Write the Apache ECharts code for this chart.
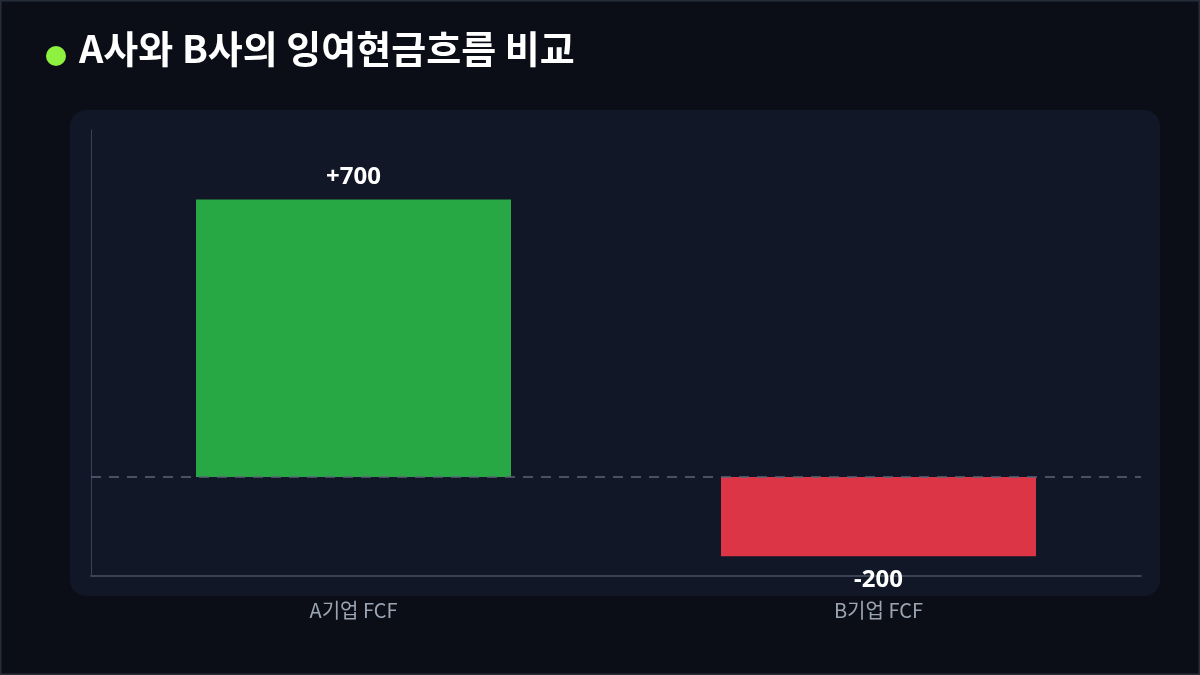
<!DOCTYPE html>
<html><head><meta charset="utf-8">
<script src="https://cdn.jsdelivr.net/npm/echarts@6/dist/echarts.min.js"></script>
<style>html,body{margin:0;padding:0;background:#0b0e17;}#c{width:1200px;height:675px;}</style>
</head><body><div id="c"></div>
<script>
const categories = ['A기업 FCF', 'B기업 FCF'];
const values = [700, -200];
const barColors = ['#28a745', '#dc3545'];
const titleText = 'A사와 B사의 잉여현금흐름 비교';

const chart = echarts.init(document.getElementById('c'), null, {renderer: 'canvas'});
const maxAbs = Math.max(...values);
const minAbs = Math.min(...values);
chart.setOption({
  backgroundColor: '#0b0e17',
  animation: false,
  graphic: [
    {type: 'rect', shape: {x: 0.5, y: 0.5, width: 1199, height: 674}, style: {fill: 'none', stroke: '#262c3a', lineWidth: 2}, z: -10},
    {type: 'rect', shape: {x: 70, y: 110, width: 1090, height: 486, r: 16}, style: {fill: '#111726'}, z: -5},
    {type: 'circle', shape: {cx: 56, cy: 56, r: 10}, style: {fill: '#8ef03f'}},
    {type: 'text', left: 79, top: 30, style: {text: titleText, fill: '#ffffff', font: 'bold 38px "Noto Sans CJK KR", "Noto Sans", sans-serif'}}
  ],
  grid: {left: 91, right: 59, top: 130, bottom: 99, containLabel: false},
  xAxis: {
    type: 'category', data: categories,
    axisLine: {show: true, onZero: false, lineStyle: {color: '#3a4253', width: 2}},
    axisTick: {show: false},
    axisLabel: {color: '#9ba5b4', fontSize: 20, margin: 24, fontFamily: '"Noto Sans CJK KR", "Noto Sans", sans-serif'}
  },
  yAxis: {
    type: 'value', min: minAbs * 1.25, max: maxAbs * 1.25,
    axisLine: {show: true, lineStyle: {color: '#3a4253', width: 1}},
    axisTick: {show: false}, axisLabel: {show: false}, splitLine: {show: false}
  },
  series: [{
    type: 'bar', barWidth: '60%',
    data: values.map((v, i) => ({value: v, itemStyle: {color: barColors[i]},
      label: {show: true, position: v >= 0 ? 'top' : 'bottom', distance: v >= 0 ? 10 : 12,
        formatter: (v > 0 ? '+' : '') + v, color: '#ffffff', fontSize: 24, fontWeight: 'bold',
        fontFamily: '"Noto Sans", "Noto Sans CJK KR", sans-serif'}})),
    markLine: {
      silent: true, symbol: 'none', label: {show: false},
      lineStyle: {color: '#5b6576', type: [10, 8], width: 1.5},
      data: [{yAxis: 0}]
    }
  }]
});
</script></body></html>
